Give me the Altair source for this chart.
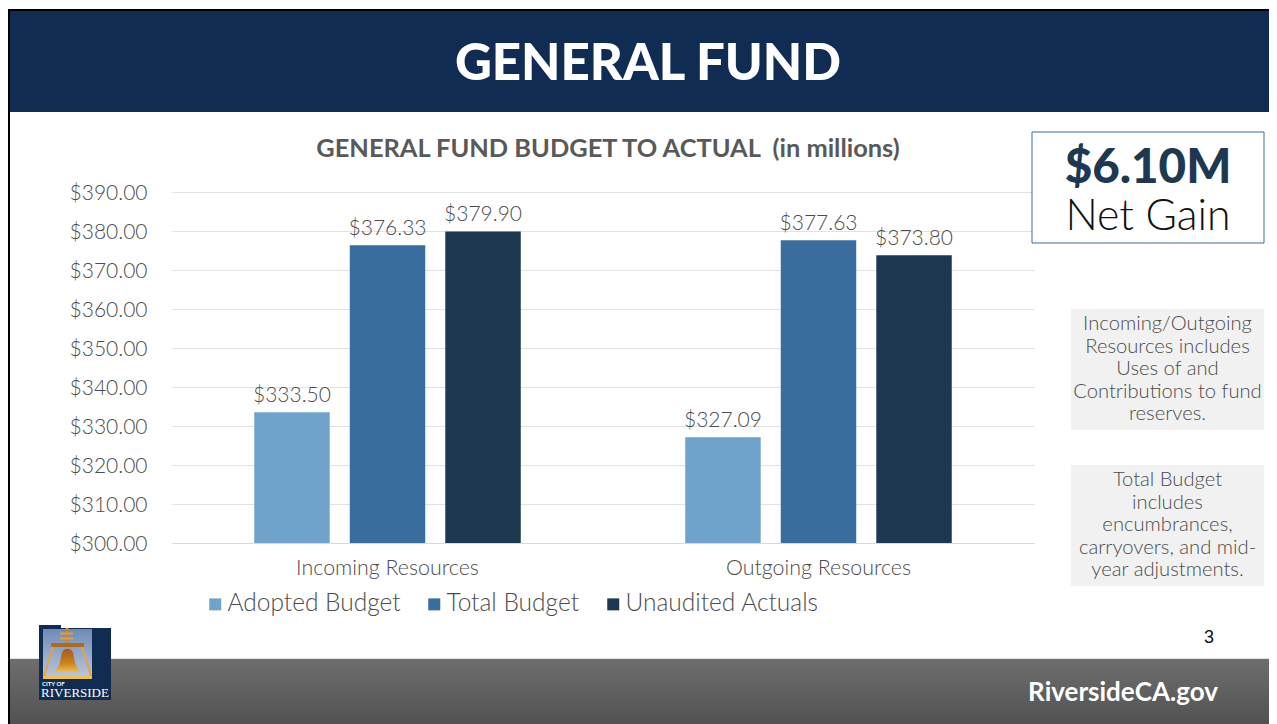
import altair as alt
import pandas as pd

categories = ["Incoming Resources", "Outgoing Resources"]
series = ["Adopted Budget", "Total Budget", "Unaudited Actuals"]
adopted = [333.50, 327.09]
total = [376.33, 377.63]
actuals = [379.90, 373.80]
y_ticks = [300, 310, 320, 330, 340, 350, 360, 370, 380, 390]
slide_title = "GENERAL FUND"
chart_title = "GENERAL FUND BUDGET TO ACTUAL\u00a0\u00a0(in millions)"
kpi_value = "$6.10M"
kpi_label = "Net Gain"
note_one = ["Incoming/Outgoing", "Resources includes", "Uses of and", "Contributions to fund", "reserves."]
note_two = ["Total Budget", "includes", "encumbrances,", "carryovers, and mid-", "year adjustments."]
page_number = "3"
site = "RiversideCA.gov"

colors = ["#70A3CC", "#386D9D", "#1D3850"]
GREY = "#595959"
TEXT = "#4C4C4C"
FONT = "Lato"
LIGHT = 300

rows = []
for s, vals in zip(series, [adopted, total, actuals]):
    for c, v in zip(categories, vals):
        rows.append({"category": c, "series": s, "value": v})
df = pd.DataFrame(rows)

LEFT, TOP = 172, 192
PW, PH = 862, 351
CANVAS_W, CANVAS_H = 1261, 716
RIGHT_EDGE = 8 + CANVAS_W
one = alt.Data(values=[{"k": 1}])


def X(px):
    return alt.value(px - LEFT)


def Y(py):
    return alt.value(py - TOP)


def rect(x0, y0, x1, y1, fill, **kw):
    return alt.Chart(one).mark_rect(fill=fill, **kw).encode(x=X(x0), x2=X(x1), y=Y(y0), y2=Y(y1))


def label(txt, px, py, size, color=TEXT, font=FONT, weight=LIGHT, align="center"):
    return alt.Chart(one).mark_text(
        text=txt, font=font, fontSize=size, fontWeight=weight, color=color,
        align=align, baseline="middle",
    ).encode(x=X(px), y=Y(py))


def rule(x0, y0, x1, y1, color, w):
    return alt.Chart(one).mark_rule(color=color, strokeWidth=w).encode(
        x=X(x0), x2=X(x1), y=Y(y0), y2=Y(y1))


def vgrad(*stops):
    return alt.LinearGradient(
        gradient="linear", x1=0, x2=0, y1=0, y2=1,
        stops=[alt.GradientStop(offset=o, color=c) for o, c in stops],
    )


decor = [
    rect(10, 11, RIGHT_EDGE, 112, "#112C52"),
    rect(8, 9, RIGHT_EDGE, 11, "#000000"),
    rect(8, 9, 10, 724, "#000000"),
    rect(10, 658, RIGHT_EDGE, 659, "#E6E6E6"),
    rect(10, 659, RIGHT_EDGE, 724, vgrad((0, "#6E6E6E"), (1, "#525252"))),
    label(slide_title, 648, 65, 51, "#FFFFFF", weight=900),
    label(chart_title, 608, 149, 25.4, GREY, weight="bold"),
    rect(1032, 132, 1264, 243, "#FFFFFF", stroke="#386D9D", strokeWidth=1),
    label(kpi_value, 1148, 169, 47.5, colors[2], weight=900),
    label(kpi_label, 1148, 217, 42.8, "#111111"),
    rect(1071, 309, 1264, 430, "#F1F1F1"),
    rect(1071, 465, 1264, 586, "#F1F1F1"),
    label(page_number, 1209, 638, 18, "#111111", font="Liberation Sans", weight="normal"),
    label(site, 1123, 693, 26, "#FFFFFF", weight="bold"),
]
for i, line in enumerate(note_one):
    decor.append(label(line, 1167.5, 324 + i * 22.5, 20.2))
for i, line in enumerate(note_two):
    decor.append(label(line, 1167.5, 480 + i * 22.5, 20.2))

# city seal
decor += [
    rect(39, 628, 111, 700, "#112C52"),
    rect(39, 625, 61, 628, "#112C52"),
    rect(43, 629, 92, 679, vgrad((0, "#6F8AB8"), (1, "#BCC8DE"))),
    rule(67, 628, 67, 645, "#C8862E", 3),
    rule(60, 633.5, 73, 633.5, "#E0A040", 2),
    rule(60, 638.5, 73, 638.5, "#E0A040", 2),
    rule(51, 645, 84, 645, "#B0691F", 4),
    rule(53, 647, 44, 676, "#E3A53A", 2),
    rule(82, 647, 91, 676, "#E3A53A", 2),
    rule(43, 677.5, 92, 677.5, "#EFC050", 3),
    alt.Chart(one).mark_point(
        shape="M0,-1 C-0.35,-1 -0.45,-0.7 -0.5,-0.35 C-0.55,0.15 -0.7,0.45 -1,0.75 L1,0.75 C0.7,0.45 0.55,0.15 0.5,-0.35 C0.45,-0.7 0.35,-1 0,-1 Z",
        filled=True, opacity=1,
        fill=vgrad((0, "#A85A18"), (0.6, "#C9801F"), (1, "#F0BE45")),
    ).encode(x=X(67.5), y=Y(662), size=alt.value(700)),
    label("CITY OF", 42, 684, 6, "#FFFFFF", weight="bold", align="left"),
    label("RIVERSIDE", 75, 692.5, 13, "#FFFFFF", font="Liberation Serif", weight="normal"),
]

x_enc = alt.X("category:N", sort=categories, title=None,
              scale=alt.Scale(paddingInner=0, paddingOuter=0),
              axis=alt.Axis(labelAngle=0, labelFont=FONT, labelFontSize=21.4, labelFontWeight=LIGHT,
                            labelColor=TEXT, labelPadding=14, labelLimit=400, ticks=False,
                            domain=True, domainColor="#D9D9D9", grid=False))
xo_enc = alt.XOffset("series:N", sort=series,
                     scale=alt.Scale(paddingInner=0.21, paddingOuter=0.861))
y_enc = alt.Y("value:Q", title=None,
              scale=alt.Scale(domain=[300, 390], zero=False, nice=False),
              axis=alt.Axis(values=y_ticks, format="$.2f", labelFont=FONT, labelFontSize=21,
                            labelFontWeight=LIGHT, labelColor=TEXT, labelPadding=25, labelOffset=1,
                            ticks=False, domain=False, grid=True, gridColor="#E2E2E2"))

bars = alt.Chart(df).mark_bar().encode(
    x=x_enc, xOffset=xo_enc, y=y_enc, y2=alt.datum(300),
    color=alt.Color("series:N", sort=series,
                    scale=alt.Scale(domain=series, range=colors),
                    legend=alt.Legend(orient="none", legendX=203 - 172, legendY=592 - 192,
                                      direction="horizontal", columns=3, title=None,
                                      symbolType="square", symbolSize=144, symbolStrokeWidth=0,
                                      labelFont=FONT, labelFontSize=24.5, labelFontWeight=LIGHT,
                                      labelColor=TEXT, labelLimit=400,
                                      labelOffset=0, columnPadding=21)),
)
values = alt.Chart(df).mark_text(font=FONT, fontSize=21, fontWeight=LIGHT, color=TEXT,
                                 baseline="middle", dy=-16).encode(
    x=x_enc, xOffset=xo_enc, y=y_enc, text=alt.Text("value:Q", format="$.2f"),
)

chart = alt.layer(*decor, bars, values).properties(
    width=PW, height=PH,
    autosize=alt.AutoSizeParams(type="none"),
    padding={"left": LEFT - 8, "top": TOP - 8,
             "right": CANVAS_W - (LEFT - 8) - PW, "bottom": CANVAS_H - (TOP - 8) - PH},
    background="#FFFFFF",
).configure_view(stroke=None)

chart.save("out.html", embed_options={"renderer": "svg", "actions": False})
